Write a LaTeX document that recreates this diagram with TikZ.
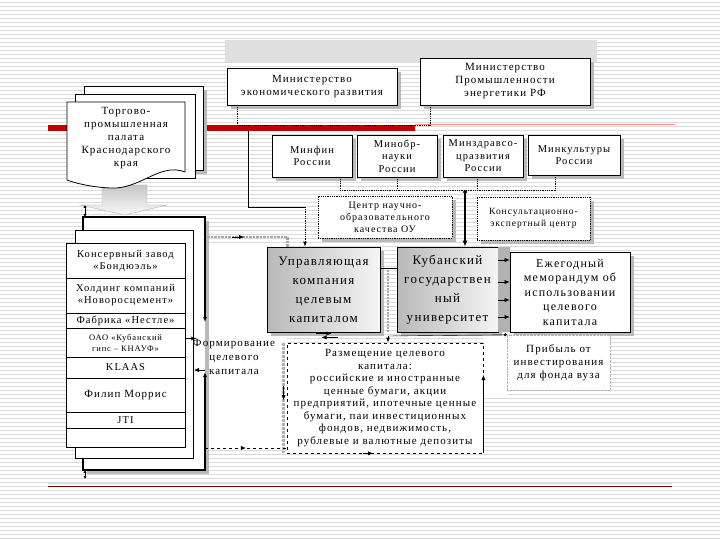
\documentclass[tikz,border=0pt]{standalone}
\usepackage{fontspec}
\setmainfont{Liberation Serif}[LetterSpace=10]
\usetikzlibrary{shadows,arrows.meta,decorations.markings}

\begin{document}
\begin{tikzpicture}[x=1pt,y=-1pt,
        shade/.style={drop shadow={shadow xshift=4pt,shadow yshift=-4pt,
            fill=gray!55,opacity=1}},
        plainbox/.style={draw,thick,fill=white,align=center,inner sep=1pt,shade},
        dotbox/.style={plainbox,densely dotted},
        gradbox/.style={draw,thick,align=center,inner sep=1pt,
            left color=gray!55,right color=gray!8,shade,
            font=\fontsize{13}{19}\selectfont},
        rowbox/.style={draw,thick,fill=white,align=center,inner sep=0pt,
            minimum width=119pt,font=\fontsize{10.5}{12}\selectfont},
        arr/.style={-{Latex[length=5pt,width=4pt]}},
        midarrow/.style={postaction={decorate,decoration={markings,
            mark=at position .5 with {\arrow{Latex[length=5pt,width=4pt]}}}}}]
\useasboundingbox (0,0) rectangle (720,540);

% slide background
\fill[white] (0,0) rectangle (720,540);
\foreach \y in {2,6,...,538}
    \draw[gray!28,line width=.7pt] (0,\y) -- (720,\y);
\fill[white] (207,243) rectangle (287,447);
\fill[white] (483,337) rectangle (507,395);
\fill[gray!25] (225,40) rectangle (597,63);

\draw[red!75!black,line width=6pt] (48,128) -- (415,128);
\draw[red!45,line width=.8pt] (415,124) -- (675,124);
\draw[red!20,line width=.6pt] (48,483) -- (672,483);
\draw[red!50!black,line width=.8pt] (48,486) -- (672,486);

% ministries
\node[plainbox,minimum width=170pt,minimum height=37pt,
    font=\fontsize{11}{13}\selectfont] (minec) at (312,86.5)
    {Министерство\\экономического развития};
\node[plainbox,minimum width=170pt,minimum height=47pt,
    font=\fontsize{11}{13}\selectfont] (minprom) at (505,81.5)
    {Министерство\\Промышленности\\энергетики РФ};
\draw[densely dotted,thick] ([xshift=-75pt]minec.south) -- ++(0,20)
    -| ([xshift=-75pt]minprom.south);

\begin{scope}[every node/.style={plainbox,minimum height=42pt,
    font=\fontsize{10.5}{12.5}\selectfont}]
\node[minimum width=80pt] (minfin) at (312,156) {Минфин\\России};
\node[minimum width=80pt] (minobr) at (397,156) {Минобр-\\науки\\России};
\node[minimum width=80pt] (minzdrav) at (483,156) {Минздравсо-\\цразвития\\России};
\node[minimum width=92pt,minimum height=40pt] (minkult) at (574,155)
    {Минкультуры\\России};
\end{scope}

\coordinate (hub) at (465,190);
\foreach \n/\dx in {minfin/28,minobr/0,minzdrav/-6,minkult/-19}
    \draw[densely dotted,thick] ([xshift=\dx pt]\n.south)
        -- ([xshift=\dx pt]\n.south |- hub);
\draw[densely dotted,thick] ([xshift=28pt]minfin.south |- hub)
    -- ([xshift=-19pt]minkult.south |- hub);

\node[dotbox,minimum width=134pt,minimum height=42pt,
    font=\fontsize{10}{12}\selectfont] (centr) at (385,217)
    {Центр научно-\\образовательного\\качества ОУ};
\node[dotbox,minimum width=113pt,minimum height=43pt,
    font=\fontsize{9.5}{12}\selectfont] (konsult) at (533.5,218.5)
    {Консультационно-\\экспертный центр};

% middle row
\node[gradbox,minimum width=113pt,minimum height=85pt] (upr) at (323.5,289.5)
    {Управляющая\\компания\\целевым\\капиталом};
\node[gradbox,minimum width=101pt,minimum height=85pt] (kubgu) at (447.5,289.5)
    {Кубанский\\государствен\\ный\\университет};
\fill[gray!60] (kubgu.north east) rectangle (510,332);
\node[plainbox,minimum width=120pt,minimum height=80pt,
    font=\fontsize{12}{14.5}\selectfont] (memo) at (570,292)
    {Ежегодный\\меморандум об\\использовании\\целевого\\капитала};
\node[draw=gray!60,densely dotted,fill=white,align=center,inner sep=1pt,
    minimum width=103pt,minimum height=55pt,
    font=\fontsize{11}{13}\selectfont] (pribyl) at (558.5,362.5)
    {Прибыль от\\инвестирования\\для фонда вуза};
\node[draw,thick,dashed,fill=white,align=center,inner sep=1pt,
    minimum width=196pt,minimum height=110pt,
    font=\fontsize{11}{12.5}\selectfont] (razm) at (385,398)
    {Размещение целевого\\капитала:\\российские и иностранные\\ценные бумаги, акции\\
    предприятий, ипотечные ценные\\бумаги, паи инвестиционных\\
    фондов, недвижимость,\\рублевые и валютные депозиты};

\draw[very thick,{Circle[length=4pt]}-{Latex[length=6pt,width=5pt]}] (hub)
    -- (hub |- kubgu.north);
\coordinate (tap) at (248,131);
\coordinate (drop) at (305,207);
\draw[thick] (tap) |- (drop);
\draw[densely dotted,thick,arr] (drop) -- (drop |- upr.north);
\draw[thick] ([yshift=21pt]upr.east) -- ([yshift=21pt]kubgu.west);
\draw[gray!70,line width=2pt,densely dotted] (388,270) -- (388,332);
\foreach \y in {260,282,300,317}
    \draw[arr] (kubgu.east |- 0,\y) -- (memo.west |- 0,\y);
\coordinate (split) at (388,336);
\draw[{Circle[length=3pt]}-] (pribyl.north west) -- (split);
\draw[arr,thick] (split) -- (split |- razm.north);
\draw[arr] ([xshift=-8pt,yshift=-1pt]upr.south) -- ++(16,0);
\draw[arr] ([xshift=14pt,yshift=-5pt]upr.south) -- ++(-16,0);
\draw[gray!60,line width=3pt,densely dotted] ([xshift=-3pt]razm.north west)
    -- ([xshift=-3pt]razm.south west);
\draw[arr] ([xshift=-3pt,yshift=12pt]razm.west) -- ([xshift=-3pt,yshift=-2pt]razm.west);
\draw[arr] (razm.south east) -- ([yshift=23pt]razm.east);
\draw[arr] ([xshift=-22pt]razm.south) -- ([xshift=-12pt]razm.south);

% chamber of commerce
\draw[thick,fill=white,shade] (84,86) rectangle (203,170);
\draw[thick,fill=white] (75,94) rectangle (195,178);
\draw[gray!60,top color=gray!45,bottom color=gray!5] (102,185) -- (147,185)
    -- (147,205) -- (167,205) -- (125,215) -- (80,205) -- (102,205) -- cycle;
\draw[thick,fill=white] (67,102) -- (185,102) -- (185,172)
    .. controls (160,162) and (140,190) .. (110,188)
    .. controls (90,187) and (75,183) .. (67,180) -- cycle;
\node[align=center,inner sep=0pt,font=\fontsize{11}{13}\selectfont] (palata)
    at (126,138) {Торгово-\\промышленная\\палата\\Краснодарского\\края};

% sponsors
\fill[white,shade] (83,217) rectangle (205,470);
\draw[line width=1.2pt,{Latex[length=5pt,width=4pt]}-{Latex[length=5pt,width=4pt]}]
    (205,372) -- (205,470) -- (83,470) -- (83,217) -- (205,217) -- (205,322);
\draw[thick,fill=white] (75,230) rectangle (193,458);
\node[rowbox,minimum height=35pt] (bond) at (125.5,260.5) {Консервный завод\\«Бондюэль»};
\node[rowbox,minimum height=35pt] (novo) at (125.5,295.5) {Холдинг компаний\\«Новоросцемент»};
\node[rowbox,minimum height=15pt] (nestle) at (125.5,320.5) {Фабрика «Нестле»};
\node[rowbox,minimum height=29pt,font=\fontsize{8.5}{11}\selectfont] (knauf)
    at (125.5,342.5) {ОАО «Кубанский\\гипс – КНАУФ»};
\node[rowbox,minimum height=21pt] (klaas) at (125.5,367.5) {KLAAS};
\node[rowbox,minimum height=34pt,font=\fontsize{11}{12}\selectfont] (morris)
    at (125.5,395) {Филип Моррис};
\node[rowbox,minimum height=16pt] (jti) at (125.5,420) {JTI};
\node[rowbox,minimum height=19pt] (blank) at (125.5,437.5) {};

\node[align=center,inner sep=1pt,font=\fontsize{11}{14}\selectfont] (form)
    at (234,357) {Формирование\\целевого\\капитала};

\draw[{Latex[length=3pt,width=3pt]}-{Latex[length=3pt,width=3pt]}] (85,205) -- (85,217);
\draw[{Latex[length=3pt,width=3pt]}-{Latex[length=3pt,width=3pt]}] (85,470) -- (85,479);
\draw[arr] ([yshift=4pt]knauf.east) -- ++(11,0);
\draw[arr] (205,370) -- (194,370);
\draw[gray!70,line width=2.5pt,densely dotted] (207,237) -| ([xshift=-36pt]upr.north);
\draw[arr] (232,237) -- (244,237);
\draw[dashed,midarrow] (205,448) -- (razm.west |- 0,448);

\end{tikzpicture}
\end{document}
